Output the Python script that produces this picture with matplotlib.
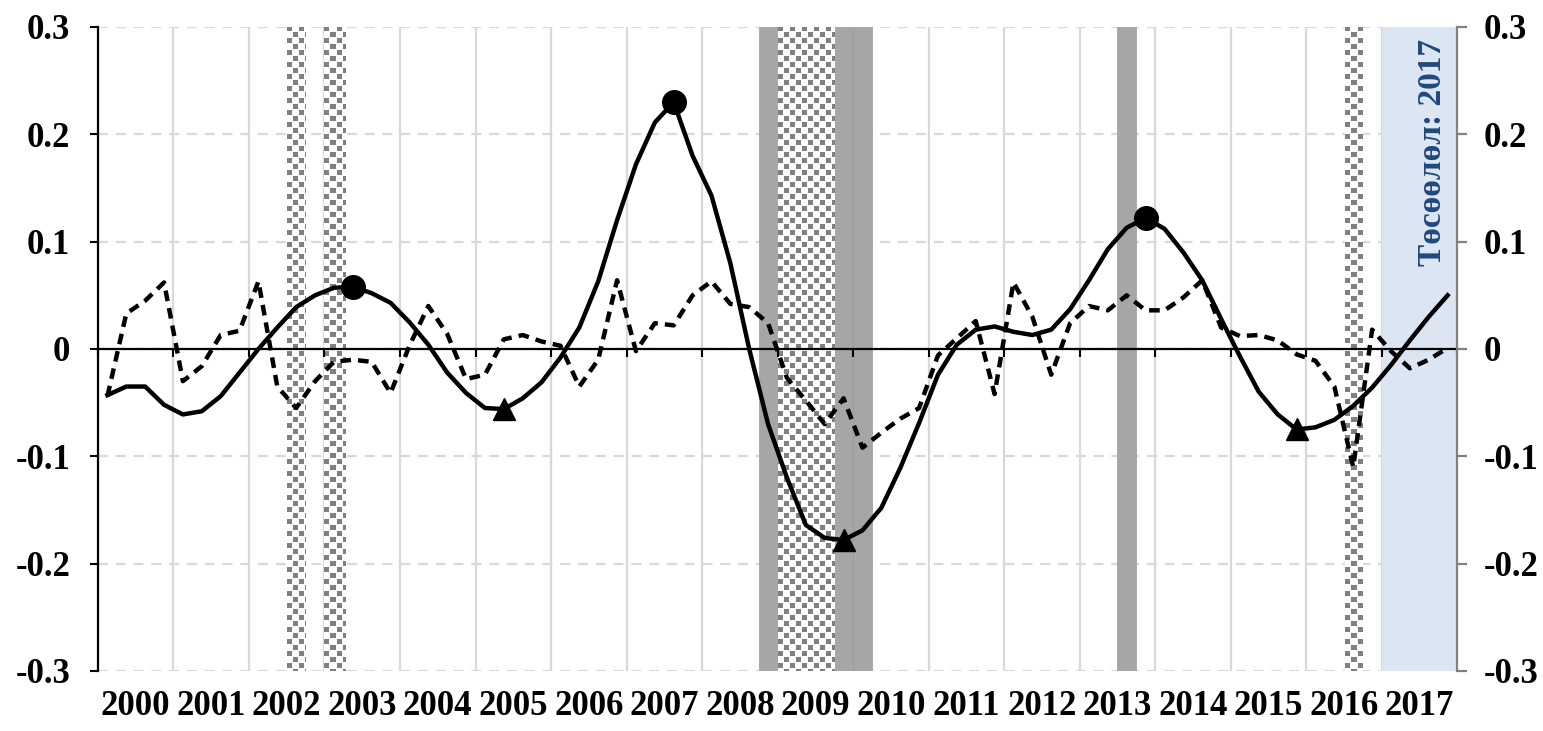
import numpy as np
import matplotlib
matplotlib.use("Agg")
import matplotlib.pyplot as plt
from matplotlib.colors import ListedColormap

plt.rcParams['font.family'] = ['Liberation Serif', 'DejaVu Serif']
plt.rcParams['font.weight'] = 'bold'

years = list(range(2000, 2018))
year_labels = [str(y) for y in years]

# quarterly values, 2000Q1 .. 2017Q4
cycle = [-0.043, -0.035, -0.035, -0.052, -0.061, -0.058, -0.044, -0.022,
         0.000, 0.020, 0.039, 0.050, 0.057, 0.058, 0.052, 0.043,
         0.025, 0.004, -0.022, -0.041, -0.055, -0.056, -0.046, -0.031,
         -0.008, 0.020, 0.063, 0.120, 0.172, 0.211, 0.230, 0.180,
         0.143, 0.080, 0.000, -0.070, -0.120, -0.164, -0.176, -0.178,
         -0.169, -0.148, -0.111, -0.069, -0.024, 0.004, 0.018, 0.021,
         0.016, 0.013, 0.018, 0.037, 0.064, 0.093, 0.113, 0.122,
         0.112, 0.090, 0.064, 0.028, -0.007, -0.040, -0.061, -0.075,
         -0.073, -0.066, -0.053, -0.036, -0.015, 0.008, 0.030, 0.050]

dashed = [-0.044, 0.033, 0.045, 0.062, -0.030, -0.016, 0.013, 0.017,
          0.063, -0.035, -0.055, -0.030, -0.012, -0.010, -0.012, -0.041,
          0.003, 0.040, 0.014, -0.028, -0.024, 0.009, 0.013, 0.007,
          0.003, -0.035, -0.010, 0.064, -0.002, 0.024, 0.022, 0.050,
          0.063, 0.042, 0.039, 0.024, -0.027, -0.048, -0.070, -0.046,
          -0.092, -0.078, -0.065, -0.055, -0.006, 0.010, 0.026, -0.042,
          0.062, 0.030, -0.024, 0.024, 0.040, 0.036, 0.050, 0.036,
          0.036, 0.048, 0.064, 0.020, 0.012, 0.013, 0.008, -0.005,
          -0.011, -0.035, -0.110, 0.018, -0.002, -0.018, -0.010, 0.001]

peaks = [13, 30, 55]
troughs = [21, 39, 63]

gray_periods = [(2008.75, 2009.0), (2009.75, 2010.0), (2010.0, 2010.25), (2013.5, 2013.75)]
checker_periods = [(2002.5, 2002.75), (2003.0, 2003.28), (2009.0, 2009.75), (2016.52, 2016.75)]
forecast_period = (2017.0, 2018.0)
forecast_label = "Төсөөлөл: 2017"

yticks = [-0.3, -0.2, -0.1, 0, 0.1, 0.2, 0.3]
ytick_labels = ['-0.3', '-0.2', '-0.1', '0', '0.1', '0.2', '0.3']

x = years[0] + (np.arange(len(cycle)) + 0.5) / 4
cycle = np.array(cycle)
dashed = np.array(dashed)

fig = plt.figure(figsize=(15.43, 7.31), dpi=100)
ax = fig.add_axes([0.0635, 0.0821, 0.8808, 0.881])

# shaded periods
for a, b in gray_periods:
    ax.axvspan(a, b, color='#a6a6a6', lw=0.5, ec='#9a9a9a', zorder=1)
ax.axvspan(*forecast_period, color='#dce6f2', lw=0, zorder=1)

# checkered bands drawn as a small tiled image
checker_cmap = ListedColormap(['white', '#808080'])
for a, b in checker_periods:
    w = max(int(round((b - a) * 75.5)), 2)
    h = 644
    r, c = np.indices((h, w))
    cell = 6
    pat = ((r // cell + c // cell) % 2 == 0) & (r % cell < cell - 1) & (c % cell < cell - 1)
    ax.imshow(pat.astype(float), extent=(a, b, -0.3, 0.3), aspect='auto',
              cmap=checker_cmap, vmin=0, vmax=1, interpolation='nearest', zorder=1.2)

ax.text(2017.68, 0.183, forecast_label, rotation=90, ha='center', va='center',
        color='#1f497d', fontsize=24, fontweight='bold')

# lines
ax.plot(x, cycle, color='black', lw=3.2, zorder=4, solid_joinstyle='round')
ax.plot(x, dashed, color='black', lw=3.2, ls=(0, (2.4, 1.6)), zorder=4)
ax.plot(x[peaks], cycle[peaks], 'o', color='black', ms=17, zorder=5)
ax.plot(x[troughs], cycle[troughs], '^', color='black', ms=16, zorder=5)

ax.set_xlim(2000, 2018)
ax.set_ylim(-0.3, 0.3)

# axes styling
ax.set_xticks([y + 0.5 for y in years])
ax.set_xticklabels(year_labels, fontsize=25, fontweight='bold')
ax.set_xticks(range(2000, 2019), minor=True)
ax.tick_params(axis='x', which='both', length=0, pad=14)
ax.set_yticks(yticks)
ax.set_yticklabels(ytick_labels, fontsize=25, fontweight='bold')
ax.tick_params(axis='y', direction='out', length=6, width=1.5, pad=14)
ax.grid(False)
ax.grid(which='minor', axis='x', color='#d9d9d9', lw=1.6, ls='-')
ax.grid(which='major', axis='y', color='#d9d9d9', lw=1.6, ls=(0, (4.5, 3.5)))
ax.set_axisbelow(True)
for s in ['top', 'right', 'bottom']:
    ax.spines[s].set_visible(False)
ax.spines['left'].set_linewidth(1.6)

# zero axis with year ticks
sec = ax.secondary_xaxis(0.5)
sec.set_alignment('bottom')
sec.set_xticks(range(2000, 2019))
sec.tick_params(direction='out', length=6, width=1.5, labelbottom=False, labeltop=False)
sec.spines['bottom'].set_linewidth(1.6)
sec.set_zorder(3)

# right axis
ax2 = ax.twinx()
ax2.set_ylim(-0.3, 0.3)
ax2.set_yticks(yticks)
ax2.set_yticklabels(ytick_labels, fontsize=25, fontweight='bold')
ax2.tick_params(axis='y', direction='out', length=7, width=1.6, color='#808080', pad=12)
for s in ['top', 'left', 'bottom']:
    ax2.spines[s].set_visible(False)
ax2.spines['right'].set_color('#808080')
ax2.spines['right'].set_linewidth(1.6)

fig.savefig('out.png', dpi=100)
